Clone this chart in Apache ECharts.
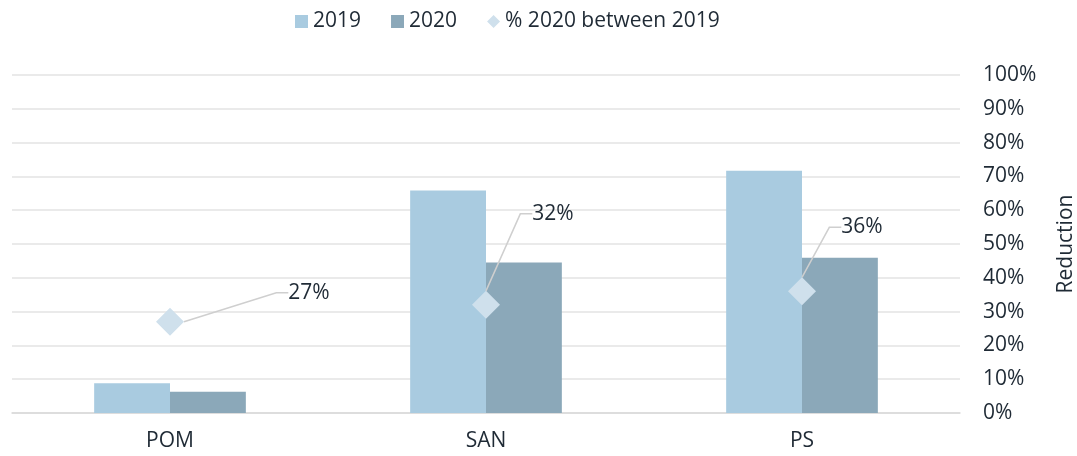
<!DOCTYPE html>
<html>
<head>
<meta charset="utf-8">
<script src="https://cdn.jsdelivr.net/npm/echarts@6/dist/echarts.min.js"></script>
<style>
html,body{margin:0;padding:0;background:#fff;}
#chart{width:1077px;height:456px;}
</style>
</head>
<body>
<div id="chart"></div>
<script>
const categories = ['POM', 'SAN', 'PS'];
const values2019 = [8.8, 65.8, 71.7];
const values2020 = [6.3, 44.5, 45.9];
const pctReduction = [27, 32, 36];
const axisTicks = [0, 10, 20, 30, 40, 50, 60, 70, 80, 90, 100];

const FONT = 'Open Sans';
const TEXT = '#1f2a35';
const labelOffsets = [[124, -29], [67, -91], [60, -64]];
const labelPads = [[0, 0, 0, 30], [0, 0, 0, 0], [0, 0, 0, 0]];

const chart = echarts.init(document.getElementById('chart'));
chart.setOption({
  animation: false,
  textStyle: { fontFamily: FONT, color: TEXT },
  legend: {
    top: 6,
    left: 290,
    itemWidth: 13,
    itemHeight: 13,
    itemGap: 30,
    textStyle: { fontFamily: FONT, fontSize: 21, color: TEXT },
    data: [
      { name: '2019', icon: 'rect' },
      { name: '2020', icon: 'rect' },
      { name: '% 2020 between 2019', icon: 'diamond', itemStyle: { color: '#cfe0ec' } }
    ]
  },
  grid: { left: 12, right: 117, top: 75, bottom: 43, containLabel: false, outerBoundsMode: 'none' },
  xAxis: {
    type: 'category',
    data: categories,
    axisTick: { show: false },
    axisLine: { lineStyle: { color: '#d9d9d9', width: 1.5 } },
    axisLabel: { fontFamily: FONT, fontSize: 21, color: TEXT, margin: 18 }
  },
  yAxis: {
    type: 'value',
    position: 'right',
    min: axisTicks[0],
    max: axisTicks[axisTicks.length - 1],
    interval: 10,
    name: 'Reduction',
    nameLocation: 'middle',
    nameRotate: 90,
    nameGap: 96,
    nameTextStyle: { fontFamily: FONT, fontSize: 21, color: TEXT },
    axisLine: { show: false },
    axisTick: { show: false },
    axisLabel: { fontFamily: FONT, fontSize: 21, color: TEXT, margin: 23, formatter: '{value}%', align: 'left' },
    splitLine: { lineStyle: { color: '#e3e3e3', width: 1.5 } }
  },
  series: [
    {
      name: '2019',
      type: 'bar',
      data: values2019,
      barWidth: '24%',
      barGap: '0%',
      itemStyle: { color: '#a9cbe0' }
    },
    {
      name: '2020',
      type: 'bar',
      data: values2020,
      barWidth: '24%',
      itemStyle: { color: '#8ba8b9' }
    },
    {
      name: '% 2020 between 2019',
      type: 'line',
      data: pctReduction.map((v, i) => ({
        value: v,
        label: { padding: labelPads[i] }
      })),
      symbol: 'diamond',
      symbolSize: 28,
      z: 5,
      lineStyle: { width: 0, opacity: 0 },
      itemStyle: { color: '#cfe0ec' },
      label: {
        show: true,
        position: 'inside',
        fontFamily: FONT,
        fontSize: 21,
        color: TEXT,
        formatter: p => Math.round(p.value) + '%'
      },
      labelLine: {
        show: true,
        length2: 12,
        lineStyle: { color: '#cfcfcf', width: 1.5 }
      },
      labelLayout: p => ({ dx: labelOffsets[p.dataIndex][0], dy: labelOffsets[p.dataIndex][1] })
    }
  ]
});
</script>
</body>
</html>
